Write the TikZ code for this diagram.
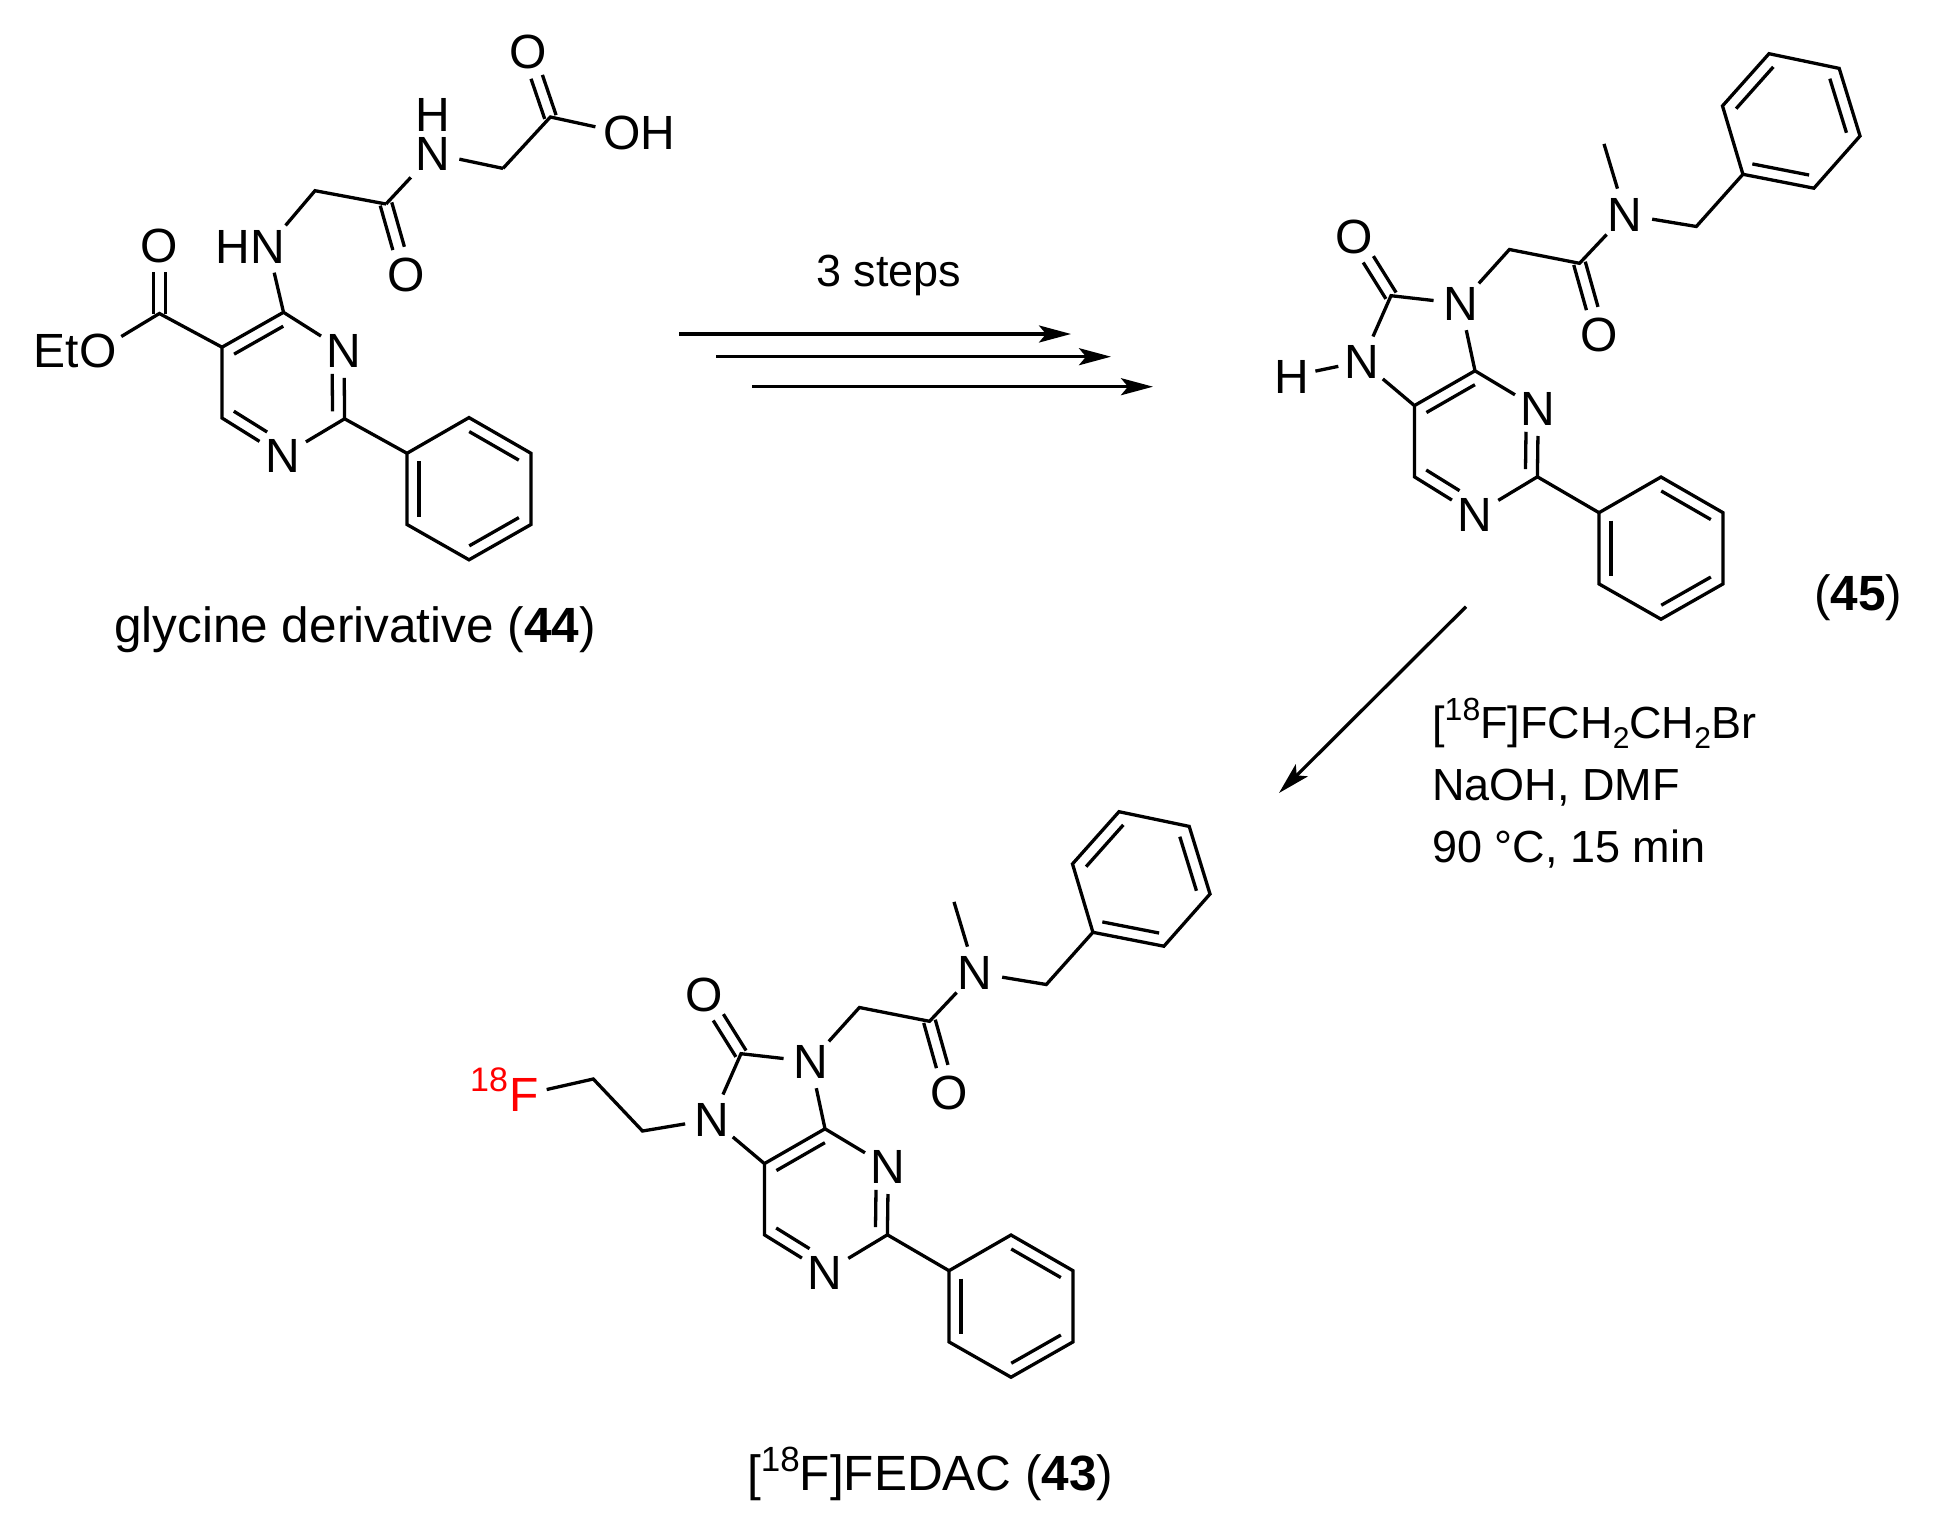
\documentclass[tikz,border=0pt]{standalone}
\usepackage{fontspec}
\setmainfont{Liberation Sans}
\usetikzlibrary{arrows.meta,calc}

\newcommand{\upnum}[2][32]{\raisebox{.39em}{\fontsize{#1}{#1}\selectfont #2}}
\newcommand{\dnnum}[1]{\raisebox{-10pt}{\fontsize{30}{30}\selectfont #1}}
% inner line of a ring bond: from, to, side, start, end
\newcommand{\inbond}[5]{\draw[bond] ($(#1)!#4!(#2)!12pt!#3:(#2)$) -- ($(#1)!#5!(#2)!12pt!#3:(#2)$);}
% carbonyl: carbon, oxygen
\newcommand{\twobond}[2]{
	\draw[bond, shorten >=27pt] ($(#1)!6pt!90:(#2)$) -- ($(#2)!6pt!-90:(#1)$);
	\draw[bond, shorten >=27pt] ($(#1)!6pt!-90:(#2)$) -- ($(#2)!6pt!90:(#1)$);
}

\tikzset{
	bond/.style={line width=3.3pt, line join=miter},
	rxn/.style={line width=3.3pt, -{Stealth[length=32pt, width=17pt, inset=7pt]}},
	atom/.style={circle, inner sep=0pt, minimum size=54pt, text height=34pt, text depth=0pt, font=\fontsize{48}{48}\selectfont},
	hatom/.style={inner sep=0pt, text height=34pt, text depth=0pt, font=\fontsize{48}{48}\selectfont},
	txt/.style={inner sep=0pt, anchor=base west, font=\fontsize{45}{54}\selectfont},
	captxt/.style={inner sep=0pt, anchor=base west, font=\fontsize{49.5}{60}\selectfont},
	phenyl/.pic={
		\coordinate (p1) at (0,0);
		\coordinate (p2) at (62,-35.7);
		\coordinate (p3) at (124,0);
		\coordinate (p4) at (124,71.2);
		\coordinate (p5) at (62,106.5);
		\coordinate (p6) at (0,71.2);
		\draw[bond] (p1) -- (p2) -- (p3) -- (p4) -- (p5) -- (p6) -- cycle;
		\inbond{p1}{p6}{90}{.11}{.89}
		\inbond{p2}{p3}{-90}{.1}{.9}
		\inbond{p4}{p5}{-90}{.1}{.9}
	},
	fused/.pic={
		\node[atom] (o8) at (1354,236.4) {O};
		\coordinate (c8) at (1391,295.7);
		\node[atom] (n9) at (1460.6,303.6) {N};
		\node[atom] (n7) at (1362,361.4) {N};
		\coordinate (c5) at (1414.4,405.6);
		\coordinate (c4) at (1475,370.8);
		\node[atom] (n3) at (1538.3,408.8) {N};
		\coordinate (c2) at (1537.4,476.8);
		\node[atom] (n1) at (1475,514.4) {N};
		\coordinate (c6) at (1414.4,476.8);
		\coordinate (ch) at (1509.4,249.5);
		\coordinate (co) at (1579.5,263.3);
		\node[atom] (oa) at (1599.5,334.5) {O};
		\node[atom] (nm) at (1625.3,214.7) {N};
		\coordinate (me) at (1604,143.9);
		\coordinate (bn) at (1696.3,226.5);
		\coordinate (q1) at (1742.9,174.3);
		\coordinate (q2) at (1813.9,188.2);
		\coordinate (q3) at (1860,136);
		\coordinate (q4) at (1839.2,68.4);
		\coordinate (q5) at (1769,53.7);
		\coordinate (q6) at (1722.5,105.9);
		\pic (ph) at (1599,512.7) {phenyl};
		\draw[bond] (c5) -- (c4) -- (n3) -- (c2) -- (n1) -- (c6) -- (c5) -- (n7) -- (c8) -- (n9) -- (c4);
		\draw[bond] (n9) -- (ch) -- (co) -- (nm) -- (bn) -- (q1);
		\draw[bond] (me) -- (nm);
		\draw[bond] (c2) -- (php1);
		\draw[bond] (q1) -- (q2) -- (q3) -- (q4) -- (q5) -- (q6) -- cycle;
		\twobond{c8}{o8}
		\twobond{co}{oa}
		\inbond{c5}{c4}{-90}{.1}{.9}
		\inbond{n3}{c2}{-90}{.34}{.89}
		\inbond{c6}{n1}{90}{.09}{.64}
		\inbond{q1}{q2}{90}{.1}{.9}
		\inbond{q3}{q4}{90}{.1}{.9}
		\inbond{q5}{q6}{90}{.1}{.9}
	}
}

\begin{document}
\begin{tikzpicture}[x=1pt, y=-1pt]
	\useasboundingbox (0,0) rectangle (1936,1533);

	% glycine derivative
	\node[atom] (gO1) at (528,51.3) {O};
	\coordinate (gC1) at (550.4,117);
	\node[atom] (gO2) at (622,132.6) {O};
	\node[hatom] (gH2) at (658,132.6) {H};
	\coordinate (gC2) at (503,168.4);
	\node[hatom] (gN1) at (433,153.6) {N};
	\node[hatom] (gH1) at (433,114.5) {H};
	\coordinate (gC3) at (386,204);
	\node[atom] (gO3) at (406,274.4) {O};
	\coordinate (gC4) at (315,190.7);
	\node[atom] (gN2) at (268,246.2) {N};
	\node[hatom] (gH3) at (233,246.2) {H};
	\coordinate (gR4) at (283.5,312.3);
	\node[atom] (gR3) at (344,350.6) {N};
	\coordinate (gR2) at (344.6,418.8);
	\node[atom] (gR1) at (282.6,455.8) {N};
	\coordinate (gR6) at (222,418);
	\coordinate (gR5) at (222,347.2);
	\coordinate (gC5) at (159.4,313.5);
	\node[atom] (gO4) at (159.4,245) {O};
	\node[atom] (gO5) at (98,350.6) {O};
	\node[hatom, anchor=base east] (gEt) at (79,367.6) {Et};
	\pic (gph) at (407,453.3) {phenyl};

	\draw[bond] (gO2) -- (gC1) -- (gC2);
	\draw[bond, shorten >=9pt] (gC2) -- (gN1);
	\draw[bond, shorten <=9pt] (gN1) -- (gC3);
	\draw[bond] (gC3) -- (gC4) -- (gN2) -- (gR4) -- (gR3) -- (gR2) -- (gR1) -- (gR6) -- (gR5) -- (gR4);
	\draw[bond] (gR5) -- (gC5) -- (gO5);
	\draw[bond] (gR2) -- (gphp1);
	\twobond{gC1}{gO1}
	\twobond{gC3}{gO3}
	\twobond{gC5}{gO4}
	\inbond{gR5}{gR4}{-90}{.1}{.9}
	\inbond{gR3}{gR2}{-90}{.34}{.89}
	\inbond{gR6}{gR1}{90}{.09}{.64}

	\node[captxt] (cap44) at (114,642.6) {glycine derivative (\textbf{44})};

	% three step arrows
	\node[txt] (steps) at (816,287) {3 steps};
	\coordinate (a1s) at (679,334);
	\coordinate (a1e) at (1071,334);
	\coordinate (a2s) at (716,356.7);
	\coordinate (a2e) at (1111,356.7);
	\coordinate (a3s) at (752,386.7);
	\coordinate (a3e) at (1153,386.7);
	\draw[rxn] (a1s) -- (a1e);
	\draw[rxn] (a2s) -- (a2e);
	\draw[rxn] (a3s) -- (a3e);

	% compound 45
	\pic (m) at (0,0) {fused};
	\node[hatom] (mH) at (1292,376) {H};
	\draw[bond, shorten >=-3pt, shorten <=6pt] (mH) -- (mn7);
	\node[captxt] (lab45) at (1814,610.3) {(\textbf{45})};

	% labelling arrow
	\coordinate (a4s) at (1466,606.7);
	\coordinate (a4e) at (1279,793);
	\draw[rxn] (a4s) -- (a4e);
	\node[txt] (r1) at (1432,738.5) {[\upnum{18}F]FCH\dnnum{2}CH\dnnum{2}Br};
	\node[txt] (r2) at (1432,800.5) {NaOH, DMF};
	\node[txt] (r3) at (1432,862.5) {90 °C, 15 min};

	% compound 43
	\pic (f) at (-650,758) {fused};
	\coordinate (fC1) at (642.5,1131);
	\coordinate (fC2) at (593.3,1079);
	\node[atom, minimum size=44pt, text=red] (fF) at (524.6,1094.5) {F};
	\node[inner sep=0pt, text=red, font=\fontsize{34}{34}\selectfont] (f18) at (489,1080) {18};
	\draw[bond] (fn7) -- (fC1) -- (fC2) -- (fF);
	\node[captxt] (cap43) at (747,1490.6) {[\upnum[35]{18}F]FEDAC (\textbf{43})};
\end{tikzpicture}
\end{document}
